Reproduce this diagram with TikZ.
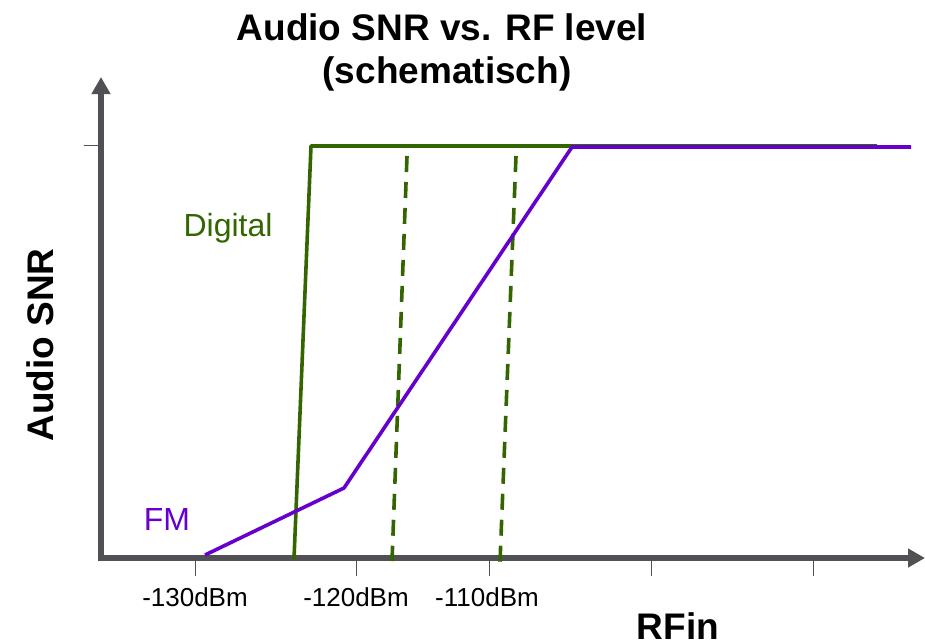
\documentclass[tikz,border=0pt]{standalone}
\usepackage{fontspec}
\setmainfont{Liberation Sans}
\usepackage{tikz}
\usetikzlibrary{arrows.meta,calc}
\definecolor{axis1}{HTML}{505055}
\definecolor{green1}{HTML}{336600}
\definecolor{purple1}{HTML}{6600CC}

\begin{document}
\begin{tikzpicture}[
    x=1pt, y=-1pt,
    axis/.style={draw=axis1, line width=5.5pt,
                 -{Triangle[length=17pt,width=18pt]}},
    tick/.style={draw=axis1, line width=1pt},
    ticklabel/.style={anchor=base, inner sep=0pt,
                      font=\fontsize{26}{30}\selectfont},
    heading/.style={anchor=base, inner sep=0pt,
                    font=\bfseries\fontsize{37}{43}\selectfont},
    curvelabel/.style={anchor=base, inner sep=0pt,
                       font=\fontsize{32}{38}\selectfont},
    digital/.style={draw=green1, line width=3.6pt, line join=round},
    limit/.style={draw=green1, line width=3.6pt,
                  dash pattern=on 16pt off 10pt},
    fm/.style={draw=purple1, line width=3.6pt, line join=round},
]
\useasboundingbox (0,0) rectangle (925,641);

% axes
\coordinate (origin) at (101,558);
\coordinate (ytop) at (101,77);
\coordinate (xend) at (925,558);
\draw[axis] ($(origin)+(0,3)$) -- (ytop);
\draw[axis] ($(origin)+(-3,0)$) -- (xend);
\draw[tick] (84,145) -- (101,145);
\foreach \x in {195,356,489,651,813}
    \draw[tick] (\x,561) -- (\x,576);

% digital: hard threshold, dashed = other thresholds
\draw[digital] (294,559) -- (311,146) -- (877,146);
\draw[limit] (407,156) -- (392,561);
\draw[limit] (516,156) -- (500,562);

% FM: gradual
\draw[fm] (205,555) -- (344,488) -- (572,147) -- (911,147);

% labels
\node[heading] (title) at (442,40) {Audio SNR vs. RF level};
\node[heading] (subtitle) at (447,83) {(schematisch)};
\node[heading, rotate=90] (ylabel) at (53,345) {Audio SNR};
\node[heading] (xlabel) at (678,639) {RFin};
\node[curvelabel, text=green1] (digitallabel) at (228,236) {Digital};
\node[curvelabel, text=purple1] (fmlabel) at (167,530) {FM};
\node[ticklabel] (l130) at (195,606) {-130dBm};
\node[ticklabel] (l120) at (356,606) {-120dBm};
\node[ticklabel] (l110) at (487,606) {-110dBm};
\end{tikzpicture}
\end{document}
